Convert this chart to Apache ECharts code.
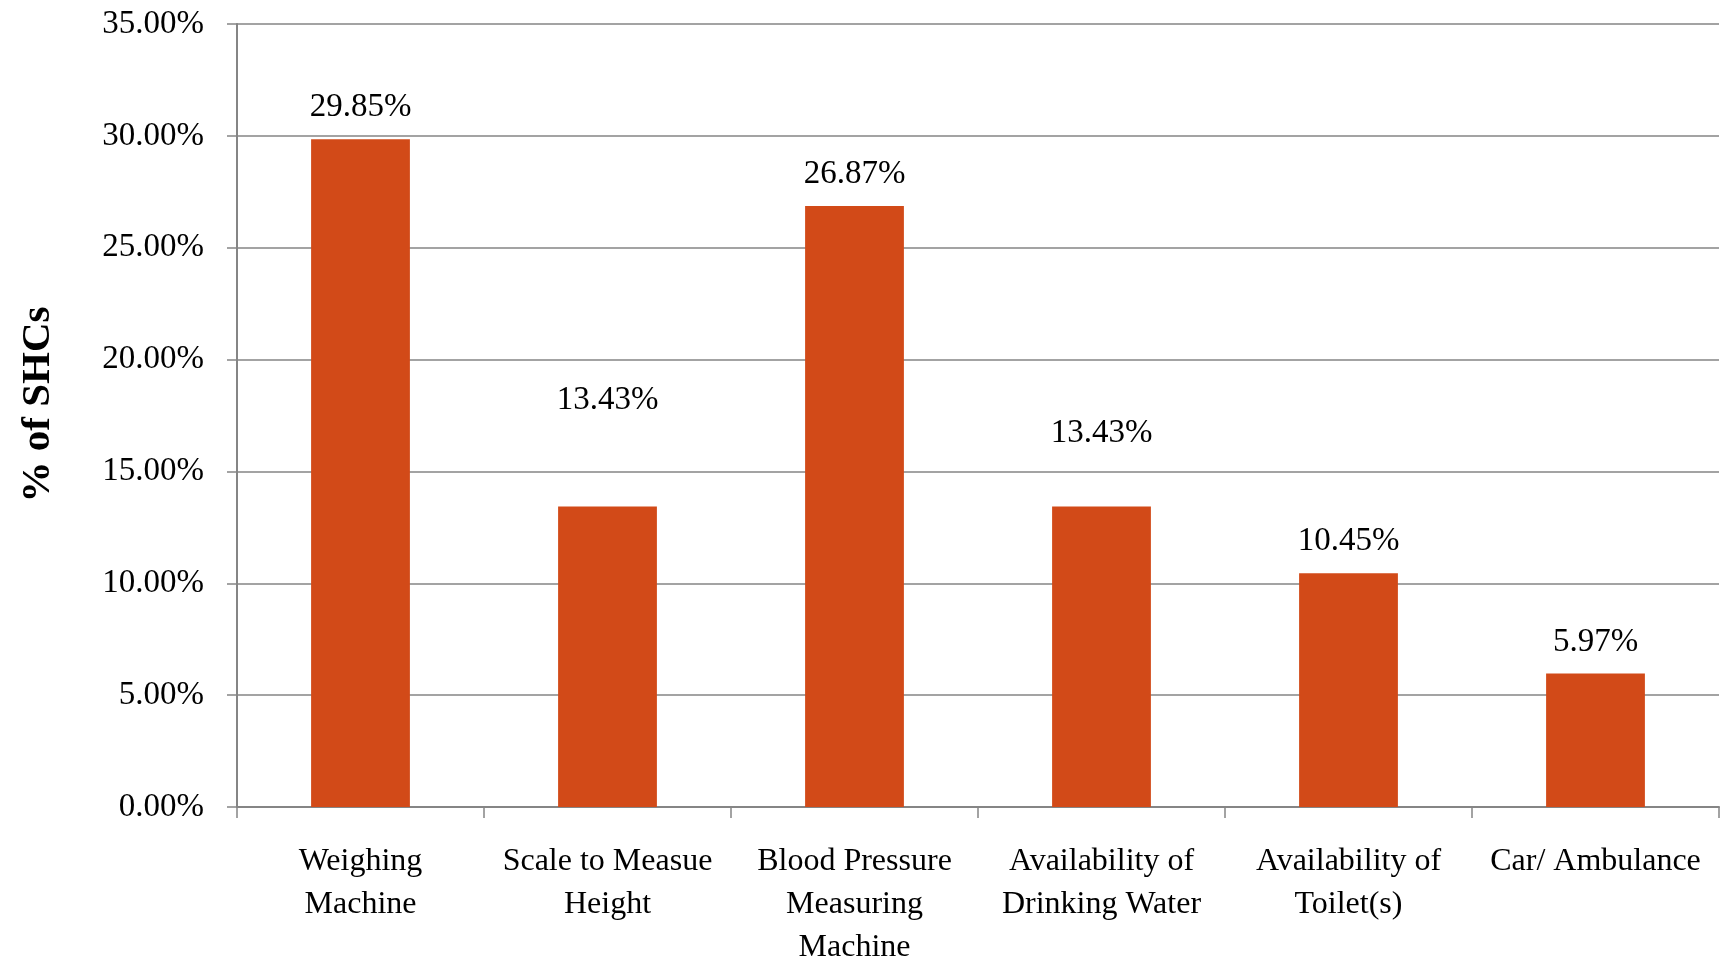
<!DOCTYPE html>
<html>
<head>
<meta charset="utf-8">
<title>% of SHCs by facility</title>
<script src="https://cdn.jsdelivr.net/npm/echarts@6/dist/echarts.min.js"></script>
<style>
  html, body { margin: 0; padding: 0; background: #ffffff; overflow: hidden; }
  #chart { width: 1720px; height: 961px; }
</style>
</head>
<body>
<div id="chart"></div>
<script>
// Facility categories along the x axis
const categories = [
  'Weighing\nMachine',
  'Scale to Measue\nHeight',
  'Blood Pressure\nMeasuring\nMachine',
  'Availability of\nDrinking Water',
  'Availability of\nToilet(s)',
  'Car/ Ambulance'
];

// Share of SHCs having each facility (percent)
const shares = [29.85, 13.43, 26.87, 13.43, 10.45, 5.97];

// Extra lift (px) for a few value labels that sit higher above their bars
const labelLift = [0, 75, 0, 42, 0, 0];

const serif = '"Liberation Serif", "DejaVu Serif", serif';
const gray = '#858585';
const barColor = '#d24a18';

const chart = echarts.init(document.getElementById('chart'), null, { renderer: 'canvas' });

chart.setOption({
  animation: false,
  backgroundColor: '#ffffff',
  grid: {
    left: 237, right: 1, top: 24, bottom: 154,
    containLabel: false,
    outerBoundsMode: 'none'
  },
  xAxis: {
    type: 'category',
    data: categories,
    boundaryGap: true,
    axisLine: { show: true, lineStyle: { color: gray, width: 2 } },
    axisTick: { show: true, length: 11, alignWithLabel: false, lineStyle: { color: gray, width: 1.5 } },
    axisLabel: {
      interval: 0,
      margin: 33,
      fontFamily: serif,
      fontSize: 32,
      lineHeight: 43,
      color: '#000000'
    },
    splitLine: { show: false }
  },
  yAxis: {
    type: 'value',
    min: 0,
    max: 35,
    interval: 5,
    name: '% of SHCs',
    nameLocation: 'middle',
    nameGap: 178,
    nameRotate: 90,
    nameTextStyle: {
      fontFamily: serif,
      fontSize: 41,
      fontWeight: 'bold',
      color: '#000000',
      padding: [0, 0, 0, 22]
    },
    axisLine: { show: true, lineStyle: { color: gray, width: 2 } },
    axisTick: { show: true, length: 10, inside: false, lineStyle: { color: gray, width: 1.5 } },
    axisLabel: {
      margin: 33,
      fontFamily: serif,
      fontSize: 33,
      color: '#000000',
      formatter: v => v.toFixed(2) + '%'
    },
    splitLine: { show: true, lineStyle: { color: gray, width: 1.5 } }
  },
  series: [{
    type: 'bar',
    barCategoryGap: '60%',
    itemStyle: { color: barColor },
    label: {
      show: true,
      position: 'top',
      distance: 15,
      fontFamily: serif,
      fontSize: 33,
      lineHeight: 33,
      color: '#000000',
      formatter: p => p.value.toFixed(2) + '%'
    },
    data: shares.map((v, i) => ({
      value: v,
      label: { offset: [0, -labelLift[i]] }
    }))
  }]
});
</script>
</body>
</html>
